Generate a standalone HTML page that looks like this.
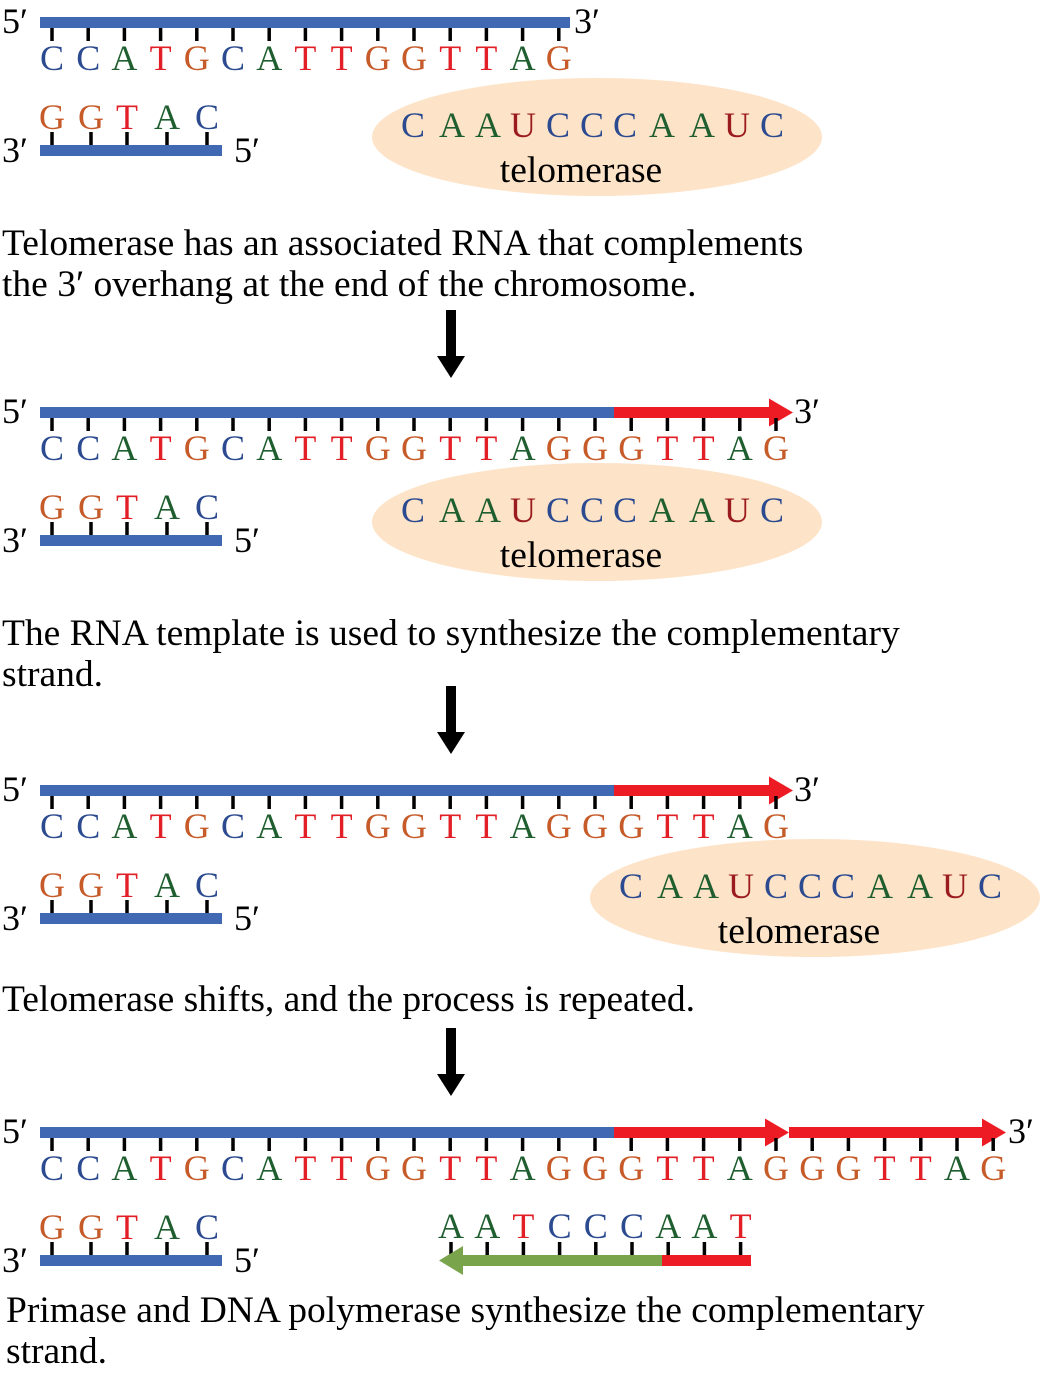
<!DOCTYPE html>
<html><head><meta charset="utf-8"><style>
html,body{margin:0;padding:0;background:#fff;}
svg{display:block;}
text{font-family:"Liberation Serif",serif;}
</style></head><body>
<svg id="fig" width="1040" height="1375" viewBox="0 0 1040 1375" xmlns="http://www.w3.org/2000/svg">
</svg>
<script>
const topSeqShort = "CCATGCATTGGTTAG";
const topSeqMid = "CCATGCATTGGTTAGGGTTAG";
const topSeqLong = "CCATGCATTGGTTAGGGTTAGGGTTAG";
const bottomSeq = "GGTAC";
const rnaSeq = "CAAUCCCAAUC";
const newStrandSeq = "AATCCCAAT";
const panelOffsets = [0, 390, 768, 1110];
const captions = [
 ["Telomerase has an associated RNA that complements","the 3\u2032 overhang at the end of the chromosome."],
 ["The RNA template is used to synthesize the complementary","strand."],
 ["Telomerase shifts, and the process is repeated."],
 ["Primase and DNA polymerase synthesize the complementary","strand."]
];
const colors = {C:"#2b4a8f",A:"#1f5e2f",T:"#e21f26",G:"#c65a28",U:"#9b1c1f"};
const svg = document.getElementById('fig');
const NS = "http://www.w3.org/2000/svg";
const sp = 36.2, x0 = 52;
function mk(tag, attrs){const e=document.createElementNS(NS,tag);for(const k in attrs)e.setAttribute(k,attrs[k]);svg.appendChild(e);return e;}
function txt(x,y,s,size,fill,anchor){const e=mk('text',{x:x,y:y,'font-size':size,fill:fill||'#000','text-anchor':anchor||'start'});e.textContent=s;return e;}
function strandLetters(seq, xs, base, ticksTop, ticksBot, nm){
  for(let i=0;i<seq.length;i++){
    const x = xs + sp*i;
    const t = mk('line',{x1:x,x2:x,y1:ticksTop,y2:ticksBot,stroke:'#000','stroke-width':3.5});
    
    
    const l = txt(x, base, seq[i], 36, colors[seq[i]], 'middle');
    
    
  }
}
function arrowR(xa, xb, yc, nm){
  const p = mk('polygon',{points:`${xa},${yc-5.5} ${xb-24},${yc-5.5} ${xb-24},${yc-14} ${xb},${yc} ${xb-24},${yc+14} ${xb-24},${yc+5.5} ${xa},${yc+5.5}`,fill:'#ed1c24'});
  
  
}
function ellipse(cx, cy, nm){
  const e = mk('ellipse',{cx:cx,cy:cy,rx:225,ry:59,fill:'#fde3c7'});
  
  
  const rx = [-184,-145,-109,-74,-39,-5,28,65,105,140,175];
  for(let i=0;i<rnaSeq.length;i++){
    const t = txt(cx+rx[i], cy, rnaSeq[i], 36, colors[rnaSeq[i]], 'middle');
    
    
  }
  const l = txt(cx-16, cy+45, 'telomerase', 37.5, '#000', 'middle');
  
  
}
function downArrow(y){
  const p = mk('polygon',{points:`446,${y} 456,${y} 456,${y+46} 465,${y+46} 451,${y+68} 437,${y+46} 446,${y+46}`,fill:'#000'});
  
  
}
const seqs = [topSeqShort, topSeqMid, topSeqMid, topSeqLong];
const ellX = [597, 597, 815, null];
const ellDy = [137, 132, 130, 0];
panelOffsets.forEach((o, pi)=>{
  const seq = seqs[pi];
  const blueEnd = pi===0 ? 570 : 614;
  const b = mk('rect',{x:40,y:o+17,width:blueEnd-40,height:11,fill:'#4169b3'});
  
  
  if(pi===1||pi===2) arrowR(614, 793, o+22.5, 'telomerase-extension-arrow');
  if(pi===3){arrowR(614, 789, o+22.5, 'telomerase-extension-arrow-1');arrowR(789, 1006, o+22.5, 'telomerase-extension-arrow-2');}
  strandLetters(seq, x0, o+70, o+28, o+41, 'top-strand');
  let t5 = txt(2, o+33, '5\u2032', 36);  
  const t3x = pi===0 ? 574 : (pi===3 ? 1008 : 794);
  let t3 = txt(t3x, o+33, '3\u2032', 36);  
  const bb = mk('rect',{x:40,y:o+145,width:182,height:11,fill:'#4169b3'});
  
  
  const bx=[52,91,127,167,207];
  for(let i=0;i<bottomSeq.length;i++){
    const tk = mk('line',{x1:bx[i],x2:bx[i],y1:o+132,y2:o+145,stroke:'#000','stroke-width':3.5});
    
    
    const l = txt(bx[i], o+129, bottomSeq[i], 36, colors[bottomSeq[i]], 'middle');
    
    
  }
  let b3 = txt(2, o+162, '3\u2032', 36);  
  let b5 = txt(234, o+162, '5\u2032', 36);  
  if(ellX[pi]) ellipse(ellX[pi], o+ellDy[pi], 'telomerase-enzyme');
  if(pi===3){
    strandLetters(newStrandSeq, 451, o+128, o+132, o+145, 'new-strand');
    const g = mk('polygon',{points:`${439},${o+150.5} ${463},${o+136} ${463},${o+145} 662,${o+145} 662,${o+156} ${463},${o+156} ${463},${o+165}`,fill:'#79a44c'});
    
    
    const r = mk('rect',{x:662,y:o+145,width:89,height:11,fill:'#ed1c24'});
    
    
  }
});
const capY = [[255,296],[645,686],[1011],[1322,1363]];
const capX = [2,2,2,6];
captions.forEach((lines,ci)=>{
  lines.forEach((s,li)=>{
    const t = txt(capX[ci], capY[ci][li], s, 37.5);
    
    
  });
});
[310, 686, 1028].forEach(downArrow);
</script>
</body></html>
